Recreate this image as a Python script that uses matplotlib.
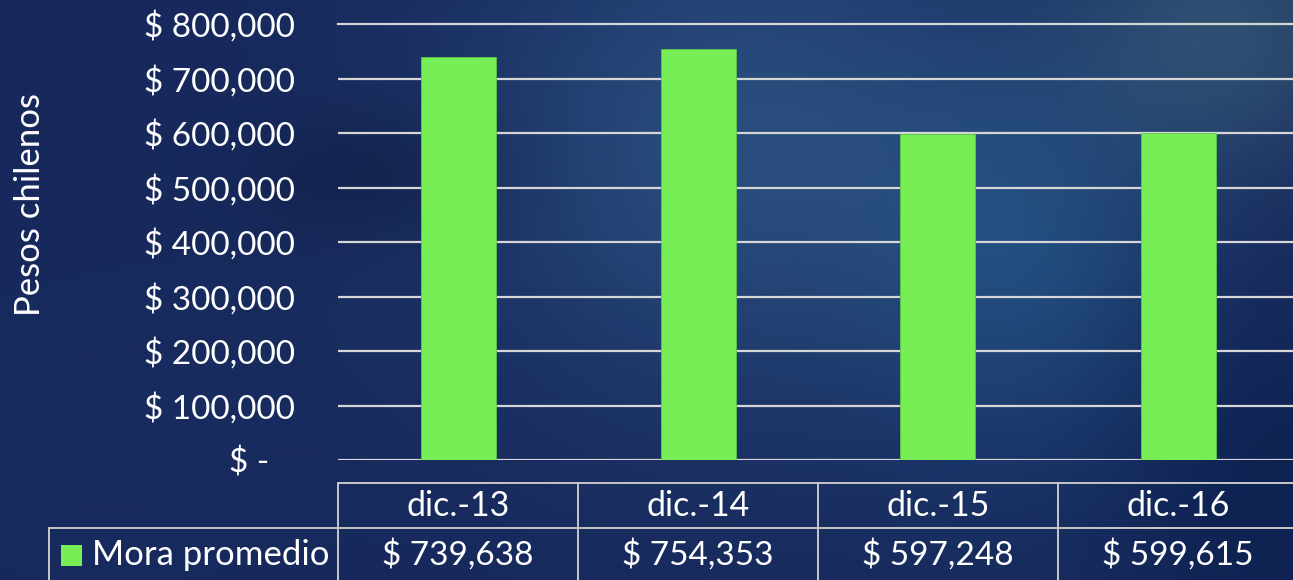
import numpy as np
import matplotlib
matplotlib.use("Agg")
import matplotlib.pyplot as plt
from matplotlib import transforms
from matplotlib.lines import Line2D
from matplotlib.patches import Rectangle

# ---------------- data ----------------
categories = ["dic.-13", "dic.-14", "dic.-15", "dic.-16"]
values = [739638, 754353, 597248, 599615]
series_name = "Mora promedio"
y_ticks = [0, 100000, 200000, 300000, 400000, 500000, 600000, 700000, 800000]
y_label = "Pesos chilenos"

BAR = "#77ee55"
GRID = "#d6d6d6"
FONT = "Lato"

W, H = 1293, 580
fig = plt.figure(figsize=(W / 100, H / 100), dpi=100)

# ---------------- background (decorative photo-like blue) ----------------
bg = fig.add_axes([0, 0, 1, 1], zorder=-10)
yy, xx = np.mgrid[0:1:290j, 0:1:646j]
base = np.array([0.09, 0.16, 0.36])
img = np.zeros(yy.shape + (3,)) + base
def blob(cx, cy, sx, sy, col, amt):
    g = np.exp(-(((xx - cx) / sx) ** 2 + ((yy - cy) / sy) ** 2))
    return g[..., None] * (np.array(col) - base) * amt
img += blob(0.58, 0.25, 0.22, 0.45, (0.16, 0.30, 0.49), 1.0)
img += blob(0.80, 0.45, 0.12, 0.35, (0.12, 0.28, 0.48), 0.8)
img += blob(0.95, 0.05, 0.12, 0.25, (0.20, 0.33, 0.45), 0.8)
img += blob(0.30, 0.30, 0.10, 0.12, (0.04, 0.08, 0.22), 0.5)
img += blob(0.98, 0.85, 0.12, 0.30, (0.04, 0.12, 0.30), 0.7)
img += blob(0.08, 0.75, 0.20, 0.30, (0.10, 0.18, 0.38), 0.5)
img = np.clip(img, 0, 1)
bg.imshow(img, aspect="auto", extent=[0, 1, 0, 1], origin="upper")
bg.set_axis_off()

# ---------------- chart axes ----------------
ax = fig.add_axes([338 / W, 1 - 460 / H, 960 / W, 436 / H])
ax.patch.set_alpha(0)
x = np.arange(len(categories))
ax.bar(x, values, width=75 / 240, color=BAR, edgecolor="#5cc64a", linewidth=0.6, zorder=3)
ax.set_xlim(-0.5, len(categories) - 0.5)
ax.set_ylim(y_ticks[0], y_ticks[-1])
ax.set_yticks(y_ticks)
ax.set_yticklabels([("$ {:,}".format(v) if v else "$ -   ") for v in y_ticks],
                   fontsize=24, color="white", fontfamily=FONT)
ax.set_xticks([])
ax.tick_params(axis="y", length=0, pad=31)
ax.yaxis.grid(True, color=GRID, linewidth=1.6, zorder=1)
ax.set_axisbelow(True)
for s in ax.spines.values():
    s.set_visible(False)
ax.yaxis.get_gridlines()[-1].set_clip_on(False)

fig.text(30 / W, 1 - 205 / H, y_label, rotation=90, ha="center", va="center",
         fontsize=25, color="white", fontfamily=FONT)

# ---------------- data table ----------------
tr = transforms.blended_transform_factory(ax.transData, fig.transFigure)
y_top = 1 - 483 / H
y_mid = 1 - 528 / H
LC = "#c8c8c8"
LW = 1.4
fig.add_artist(Line2D([-0.5, len(categories) - 0.5 + 0.2], [y_top, y_top], transform=tr, color=LC, lw=LW))
fig.add_artist(Line2D([49 / W, 1.0], [y_mid, y_mid], transform=fig.transFigure, color=LC, lw=LW))
fig.add_artist(Line2D([49 / W, 49 / W], [0, y_mid], transform=fig.transFigure, color=LC, lw=LW))
for i in range(len(categories)):
    fig.add_artist(Line2D([i - 0.5, i - 0.5], [0, y_top], transform=tr, color=LC, lw=LW))
for i, (c, v) in enumerate(zip(categories, values)):
    fig.text(i, 1 - 506 / H, c, transform=tr, ha="center", va="center",
             fontsize=24.5, color="white", fontfamily=FONT)
    fig.text(i, 1 - 555 / H, "$ {:,}".format(v), transform=tr, ha="center", va="center",
             fontsize=24, color="white", fontfamily=FONT)

fig.add_artist(Rectangle((61 / W, 1 - 566 / H), 21 / W, 21 / H, transform=fig.transFigure,
                         facecolor=BAR, edgecolor="none"))
fig.text(92 / W, 1 - 555 / H, series_name, ha="left", va="center",
         fontsize=25, color="white", fontfamily=FONT)

fig.savefig("out.png", dpi=100)
